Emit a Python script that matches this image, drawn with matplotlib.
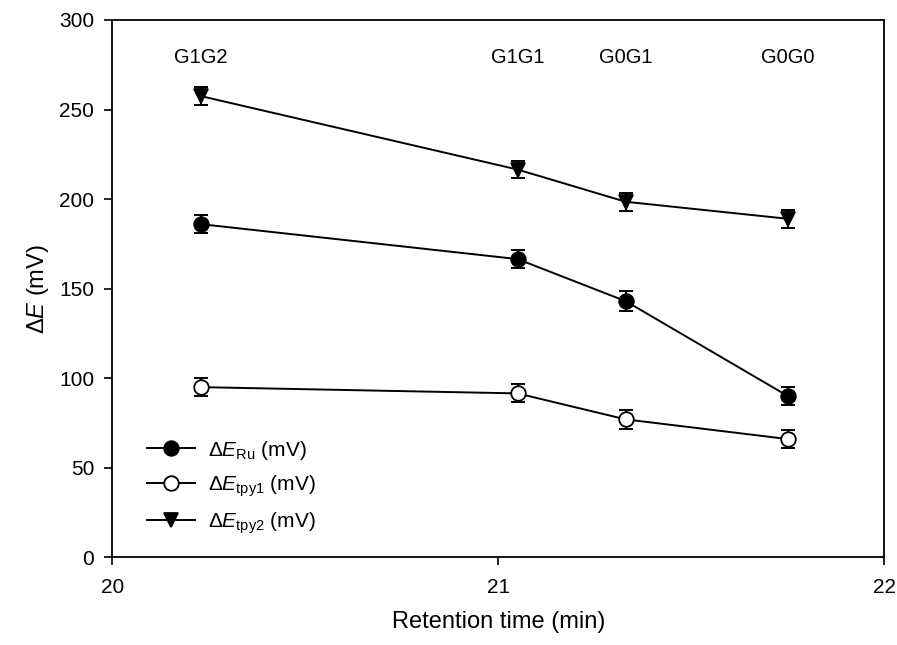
import matplotlib
matplotlib.use('Agg')
import matplotlib.pyplot as plt
import numpy as np

plt.rcParams['font.family'] = ['Liberation Sans', 'DejaVu Sans']
plt.rcParams['mathtext.fontset'] = 'custom'
plt.rcParams['mathtext.rm'] = 'Liberation Sans'
plt.rcParams['mathtext.it'] = 'Liberation Sans:italic'

# data
ret_time = [20.23, 21.05, 21.33, 21.75]
glycans = ['G1G2', 'G1G1', 'G0G1', 'G0G0']
dE_ru = [186, 166.5, 143, 90]
dE_ru_err = [5, 5, 5.5, 5]
dE_tpy1 = [95, 91.5, 77, 66]
dE_tpy1_err = [5, 5, 5.5, 5]
dE_tpy2 = [257.5, 216.5, 198.5, 189]
dE_tpy2_err = [5, 5, 5, 5]

fig = plt.figure(figsize=(8.97, 6.45), dpi=100)
ax = fig.add_axes([0.125, 0.136, 0.861, 0.833])

lw = 1.4
series = [
    (dE_ru, dE_ru_err, 'o', 'black', r'$\Delta\mathit{E}_{\rm Ru}$ (mV)'),
    (dE_tpy1, dE_tpy1_err, 'o', 'white', r'$\Delta\mathit{E}_{\rm tpy1}$ (mV)'),
    (dE_tpy2, dE_tpy2_err, 'v', 'black', r'$\Delta\mathit{E}_{\rm tpy2}$ (mV)'),
]
for y, err, m, fc, lab in series:
    ax.errorbar(ret_time, y, yerr=err, fmt='none', ecolor='black', elinewidth=lw,
                capsize=5, capthick=lw, zorder=2)
    ax.plot(ret_time, y, '-', marker=m, color='black', lw=lw, ms=10.5,
            mfc=fc, mec='black', mew=1.3, label=lab, zorder=3)

for x, g in zip(ret_time, glycans):
    ax.text(x, 279, g, ha='center', va='center', fontsize=14.5)

ax.set_xlim(20, 22)
ax.set_ylim(0, 300)
ax.set_xticks([20, 21, 22])
ax.set_yticks(np.arange(0, 301, 50))
ax.tick_params(direction='out', length=6, width=1.2, labelsize=15, pad=7)
ax.tick_params(axis='x', pad=9)
for s in ax.spines.values():
    s.set_linewidth(1.3)

ax.set_xlabel('Retention time (min)', fontsize=17, labelpad=10)
ax.set_ylabel(r'$\Delta\mathit{E}$ (mV)', fontsize=17, labelpad=6)

ax.legend(loc='lower left', bbox_to_anchor=(0.035, 0.025), frameon=False,
          fontsize=15, handlelength=2.3, handletextpad=0.6, labelspacing=0.55,
          borderaxespad=0)

fig.savefig('out.png', dpi=100)
